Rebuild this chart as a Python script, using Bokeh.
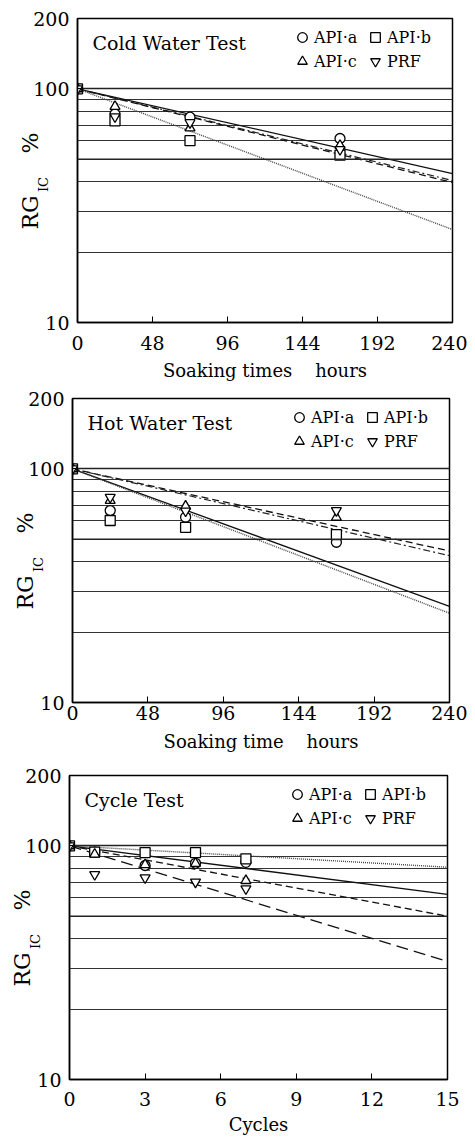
import math
from bokeh.plotting import figure
from bokeh.models import (Range1d, FixedTicker, Label, Legend, LegendItem, Span,
                          NumeralTickFormatter)
from bokeh.embed import file_html
from bokeh.resources import INLINE

FONT = "DejaVu Serif"

series_names = ["API\u00b7a", "API\u00b7b", "API\u00b7c", "PRF"]
series_markers = ["circle", "square", "triangle", "inverted_triangle"]

# ---- Cold Water Test ----
cold_x = [0, 24, 72, 168]
cold_api_a = [100, 78, 75.6, 61.3]
cold_api_b = [100, 73, 60, 52]
cold_api_c = [100, 84, 68, 57.2]
cold_prf = [100, 76, 71.7, 55]
cold_fit_x = [0, 240]
cold_fit_end = [43.4, 40.5, 39.7, 25.0]
cold_xticks = [0, 48, 96, 144, 192, 240]

# ---- Hot Water Test ----
hot_x = [0, 24, 72, 168]
hot_api_a = [100, 66.3, 62.1, 48.5]
hot_api_b = [100, 60.1, 56.2, 52.3]
hot_api_c = [100, 73.2, 69.2, 62]
hot_prf = [100, 75.6, 66, 66.3]
hot_fit_x = [0, 240]
hot_fit_end = [25.8, 24.1, 44.5, 42.5]
hot_xticks = [0, 48, 96, 144, 192, 240]

# ---- Cycle Test ----
cyc_x = [0, 1, 3, 5, 7]
cyc_api_a = [100, 94, 82.4, 84.2, 85]
cyc_api_b = [100, 94, 93.6, 93.6, 88]
cyc_api_c = [100, 92, 83, 84, 71]
cyc_prf = [100, 75.4, 73, 70, 65.5]
cyc_fit_x = [0, 15]
cyc_fit_end = [81, 62, 50, 32]
cyc_xticks = [0, 3, 6, 9, 12, 15]

y_major = [10, 100, 200]
y_minor = [20, 30, 40, 50, 60, 70, 80, 90]

STYLES = {
    "solid": dict(line_color="#111111", line_width=1.3),
    "dashed": dict(line_color="#111111", line_width=1.3, line_dash="7 4"),
    "longdash": dict(line_color="#111111", line_width=1.3, line_dash="12 6"),
    "dashdot": dict(line_color="#222222", line_width=1.2, line_dash="7 3 2 3"),
    "dotted": dict(line_color="#444444", line_width=1.4, line_dash="1 1"),
}

FRAME_H = 304
Y0, Y1 = 10, 200
WIDTH = 467
NB = "\u00a0"


def make_panel(title, xlabel, xs, ys_list, fit_x, fit_end, fit_styles, xticks,
               left, frame_w, top, bottom, tick_standoff, label_standoff, sub_side):
    height = top + FRAME_H + bottom
    p = figure(width=WIDTH, height=height, y_axis_type="log",
               x_range=Range1d(xticks[0], xticks[-1]), y_range=Range1d(Y0, Y1),
               output_backend="svg", toolbar_location=None,
               min_border_left=left, min_border_right=WIDTH - left - frame_w,
               min_border_top=top, min_border_bottom=bottom)
    p.background_fill_color = "white"
    p.border_fill_color = "white"
    p.outline_line_color = "black"
    p.outline_line_width = 1.5

    xr0, xr1 = xticks[0], xticks[-1]

    def dx(px):
        return xr0 + px / frame_w * (xr1 - xr0)

    def dy(px):
        return 10 ** (math.log10(Y1) - px / FRAME_H * (math.log10(Y1) - math.log10(Y0)))

    # axes
    p.xaxis.ticker = FixedTicker(ticks=xticks)
    p.yaxis.ticker = FixedTicker(ticks=y_major, minor_ticks=y_minor)
    p.yaxis.formatter = NumeralTickFormatter(format="0")
    for ax in (p.xaxis, p.yaxis):
        ax.axis_line_color = "black"
        ax.axis_line_width = 1.5
        ax.major_tick_out = 0
        ax.minor_tick_in = 0
        ax.minor_tick_out = 0
        ax.major_label_text_font = FONT
        ax.major_label_text_font_size = "19px"
        ax.major_label_text_color = "black"
        ax.axis_label_text_font = FONT
        ax.axis_label_text_font_style = "normal"
        ax.axis_label_text_color = "black"
    p.xaxis.major_tick_in = 6
    p.yaxis.major_tick_in = 4
    p.xaxis.major_label_standoff = tick_standoff
    p.yaxis.major_label_standoff = 8
    p.xaxis.axis_label = xlabel
    p.xaxis.axis_label_text_font_size = "18px"
    p.xaxis.axis_label_standoff = label_standoff

    # y axis label "RG_IC %": RG and % on the axis label, IC as a subscript label
    p.yaxis.axis_label = "RG" + NB * 6 + "%" + NB * 3
    p.yaxis.axis_label_text_font_size = "22px"
    p.yaxis.axis_label_standoff = -13
    # the subscript is positioned through the frame scales; it is hosted in a
    # side panel that has room for it
    p.add_layout(Label(x=dx(-34), y=dy(166), text="IC", angle=math.pi / 2,
                       text_font=FONT, text_font_size="13px",
                       text_align="center", text_baseline="middle",
                       text_color="black"), sub_side)

    # grid
    p.xgrid.grid_line_color = None
    p.ygrid.grid_line_color = "#222222"
    p.ygrid.grid_line_width = 1.6
    p.ygrid.minor_grid_line_color = "#333333"
    p.ygrid.minor_grid_line_width = 1
    p.add_layout(Span(location=50, dimension="width", line_color="#222222", line_width=1.6))

    # fitted lines
    for end, st in zip(fit_end, fit_styles):
        p.line(fit_x, [100, end], **STYLES[st])

    # markers
    items = []
    for name, mk, ys in zip(series_names, series_markers, ys_list):
        r = p.scatter(xs, ys, marker=mk, size=10, line_color="black",
                      fill_color="white", line_width=1.3)
        items.append(LegendItem(label=name, renderers=[r]))

    legend = Legend(items=items, orientation="horizontal", ncols=2,
                    location=(frame_w - 162, FRAME_H - 7 - 48), padding=0, margin=0,
                    spacing=0, glyph_width=24, glyph_height=24, label_standoff=0,
                    label_width=49, label_text_font=FONT, label_text_font_size="16px",
                    label_text_color="black", background_fill_alpha=0,
                    border_line_alpha=0)
    p.add_layout(legend)

    # panel title
    p.add_layout(Label(x=15, y=FRAME_H - 24, x_units="screen", y_units="screen",
                       text=title, text_font=FONT,
                       text_font_size="19px", text_align="left",
                       text_baseline="middle", text_color="black"))
    return p


p1 = make_panel("Cold Water Test", "Soaking times" + NB * 3 + " hours", cold_x,
                [cold_api_a, cold_api_b, cold_api_c, cold_prf],
                cold_fit_x, cold_fit_end, ["solid", "dashdot", "dashed", "dotted"],
                cold_xticks, left=77, frame_w=375, top=18, bottom=66,
                tick_standoff=13, label_standoff=7, sub_side="left")
p2 = make_panel("Hot Water Test", "Soaking time" + NB * 3 + " hours", hot_x,
                [hot_api_a, hot_api_b, hot_api_c, hot_prf],
                hot_fit_x, hot_fit_end, ["solid", "dotted", "dashed", "dashdot"],
                hot_xticks, left=72, frame_w=377, top=10, bottom=63,
                tick_standoff=3, label_standoff=8, sub_side="right")
p3 = make_panel("Cycle Test", "Cycles", cyc_x,
                [cyc_api_a, cyc_api_b, cyc_api_c, cyc_prf],
                cyc_fit_x, cyc_fit_end, ["dotted", "solid", "dashed", "longdash"],
                cyc_xticks, left=69, frame_w=378, top=10, bottom=62,
                tick_standoff=12, label_standoff=5, sub_side="right")

# three independent roots stacked on the page, so each frame keeps its own edges
open("out.html", "w").write(file_html([p1, p2, p3], INLINE))
